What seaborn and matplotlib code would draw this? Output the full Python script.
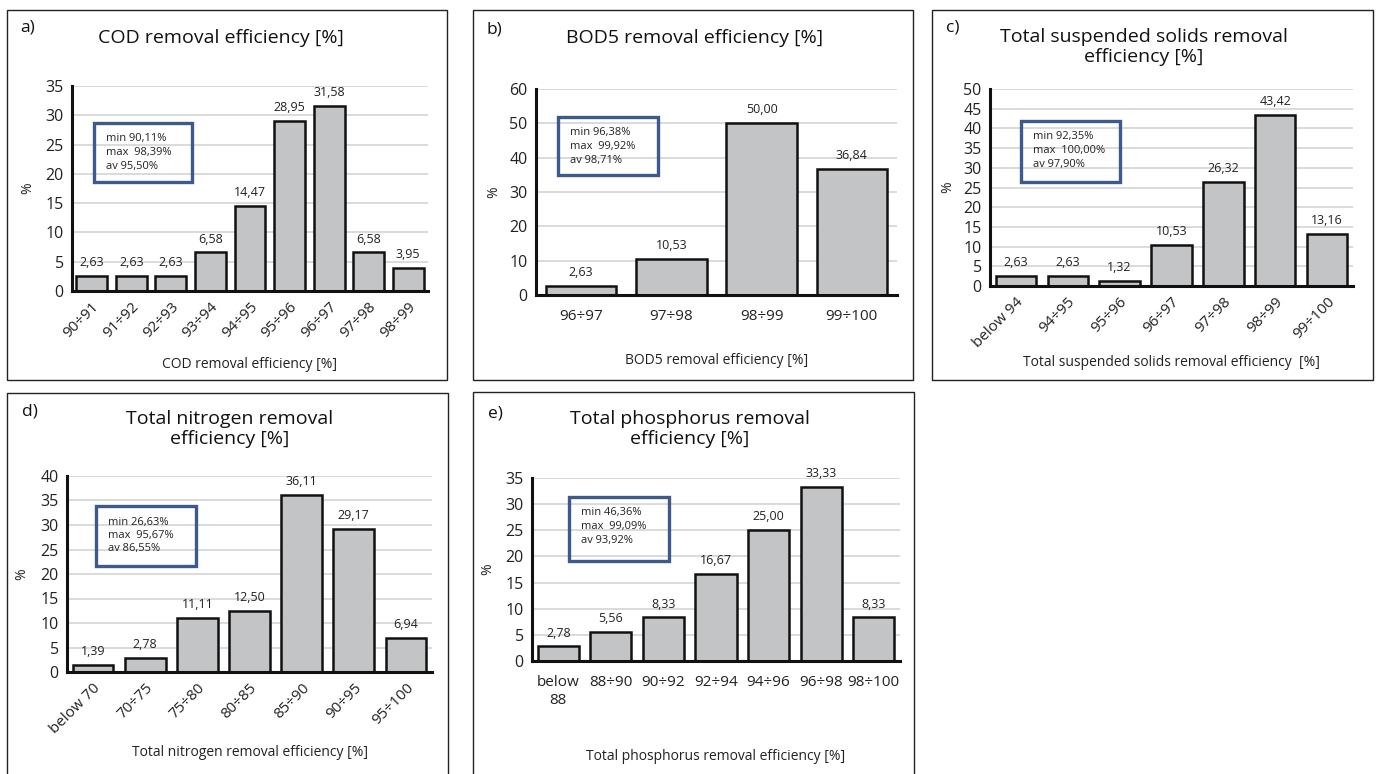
import matplotlib
matplotlib.use("Agg")
import matplotlib.pyplot as plt
import seaborn as sns
import pandas as pd
from matplotlib.patches import Rectangle

# ---------------- data ----------------
cod_cats = ["90÷91", "91÷92", "92÷93", "93÷94", "94÷95", "95÷96", "96÷97", "97÷98", "98÷99"]
cod_vals = [2.63, 2.63, 2.63, 6.58, 14.47, 28.95, 31.58, 6.58, 3.95]
cod_stats = ["min 90,11%", "max  98,39%", "av 95,50%"]

bod_cats = ["96÷97", "97÷98", "98÷99", "99÷100"]
bod_vals = [2.63, 10.53, 50.00, 36.84]
bod_stats = ["min 96,38%", "max  99,92%", "av 98,71%"]

tss_cats = ["below 94", "94÷95", "95÷96", "96÷97", "97÷98", "98÷99", "99÷100"]
tss_vals = [2.63, 2.63, 1.32, 10.53, 26.32, 43.42, 13.16]
tss_stats = ["min 92,35%", "max  100,00%", "av 97,90%"]

tn_cats = ["below 70", "70÷75", "75÷80", "80÷85", "85÷90", "90÷95", "95÷100"]
tn_vals = [1.39, 2.78, 11.11, 12.50, 36.11, 29.17, 6.94]
tn_stats = ["min 26,63%", "max  95,67%", "av 86,55%"]

tp_cats = ["below\n88", "88÷90", "90÷92", "92÷94", "94÷96", "96÷98", "98÷100"]
tp_vals = [2.78, 5.56, 8.33, 16.67, 25.00, 33.33, 8.33]
tp_stats = ["min 46,36%", "max  99,09%", "av 93,92%"]

sns.set_theme(style="white")
plt.rcParams["font.family"] = ["Open Sans", "DejaVu Sans"]

W, H = 1385, 774
fig = plt.figure(figsize=(W / 100, H / 100), dpi=100)

BAR = "#c3c4c6"
GRID = "#d4d4d4"
BOXC = "#3d5a8a"
TXT = "#222222"


def fx(x):
    return x / W


def fy(y):
    return 1 - y / H


def frame(x0, y0, x1, y1):
    fig.patches.append(Rectangle((fx(x0), fy(y1)), fx(x1) - fx(x0), fy(y0) - fy(y1),
                                 transform=fig.transFigure, fill=False,
                                 edgecolor="#222222", linewidth=1.0))


def panel(cats, vals, ax_px, ymax, ystep, title_lines, title_xy, label, label_xy,
          xlabel, xlabel_y, ylabel_x, box_px, stats, rot=45):
    l, r, t, b = ax_px
    ax = fig.add_axes([fx(l), fy(b), fx(r) - fx(l), fy(t) - fy(b)])
    df = pd.DataFrame({"cat": cats, "val": vals})
    sns.barplot(data=df, x="cat", y="val", ax=ax, color=BAR, saturation=1,
                edgecolor="#111111", linewidth=1.8, width=0.78)
    ax.set_xlim(-0.5, len(cats) - 0.5)
    ax.set_ylim(0, ymax)
    ticks = list(range(0, ymax + 1, ystep))
    ax.set_yticks(ticks)
    ax.set_yticklabels([str(v) for v in ticks], fontsize=11.5, color=TXT)
    for v in ticks[1:]:
        ax.axhline(v, color=GRID, linewidth=1.2, zorder=0)
    ax.set_axisbelow(True)
    for s in ["top", "right"]:
        ax.spines[s].set_visible(False)
    for s in ["left", "bottom"]:
        ax.spines[s].set_color("#111111")
        ax.spines[s].set_linewidth(2.2)
    ax.tick_params(axis="y", direction="out", length=4, width=2, color="#111111", pad=2)
    ax.set_xticks(range(len(cats)))
    if rot:
        ax.tick_params(axis="x", length=0, pad=6)
        ax.set_xticklabels(cats, rotation=rot, ha="right", rotation_mode="anchor",
                           fontsize=11, color=TXT)
    else:
        ax.tick_params(axis="x", length=0, pad=10)
        ax.set_xticklabels(cats, fontsize=11, color=TXT, linespacing=1.3, va="top")
    ax.set_xlabel(xlabel, fontsize=10, color=TXT)
    ax.set_ylabel("%", fontsize=10, color=TXT)
    ax.xaxis.set_label_coords(0.5, -(xlabel_y - b) / (b - t))
    ax.yaxis.set_label_coords((ylabel_x - l) / (r - l), 0.5)
    ax.xaxis.label.set_va("center")
    ax.yaxis.label.set_va("center")
    labels = [f"{v:.2f}".replace(".", ",") for v in vals]
    ax.bar_label(ax.containers[0], labels=labels, padding=5, fontsize=9, color=TXT)

    # title
    tx, ty = title_xy
    fig.text(fx(tx), fy(ty), "\n".join(title_lines), ha="center", va="center",
             fontsize=14, color="#111111", linespacing=1.1)
    fig.text(fx(label_xy[0]), fy(label_xy[1]), label, ha="left", va="center",
             fontsize=12.5, color="#111111")
    # stats box
    bx0, by0, bx1, by1 = box_px
    fig.patches.append(Rectangle((fx(bx0), fy(by1)), fx(bx1) - fx(bx0), fy(by0) - fy(by1),
                                 transform=fig.transFigure, fill=False,
                                 edgecolor=BOXC, linewidth=2.4, zorder=5))
    for i, s in enumerate(stats):
        fig.text(fx(bx0 + 12), fy(by0 + 16 + i * 13.5), s, ha="left", va="center",
                 fontsize=8, color=TXT)
    return ax


# panel frames
frame(7, 10, 447, 380)
frame(473, 10, 913, 380)
frame(932, 10, 1373, 380)
frame(7, 393, 448, 780)
frame(473, 392, 914, 780)

panel(cod_cats, cod_vals, (72, 428, 86, 291), 35, 5,
      ["COD removal efficiency [%]"], (221, 38), "a)", (20, 28),
      "COD removal efficiency [%]", 365, 28, (94, 123, 192, 182), cod_stats)

panel(bod_cats, bod_vals, (536, 897, 89, 295), 60, 10,
      ["BOD5 removal efficiency [%]"], (695, 38), "b)", (487, 30),
      "BOD5 removal efficiency [%]", 361, 494, (558, 117, 658, 175), bod_stats, rot=0)

panel(tss_cats, tss_vals, (990, 1353, 89, 286), 50, 5,
      ["Total suspended solids removal", "efficiency [%]"], (1144, 47), "c)", (946, 28),
      "Total suspended solids removal efficiency  [%]", 363, 948, (1021, 121, 1120, 182), tss_stats)

panel(tn_cats, tn_vals, (67, 432, 476, 672), 40, 5,
      ["Total nitrogen removal", "efficiency [%]"], (230, 429), "d)", (22, 411),
      "Total nitrogen removal efficiency [%]", 753, 22, (96, 506, 196, 566), tn_stats)

panel(tp_cats, tp_vals, (532, 900, 478, 661), 35, 5,
      ["Total phosphorus removal", "efficiency [%]"], (690, 429), "e)", (488, 414),
      "Total phosphorus removal efficiency [%]", 756, 488, (569, 497, 669, 561), tp_stats, rot=0)

fig.savefig("out.png", dpi=100, facecolor="white")
